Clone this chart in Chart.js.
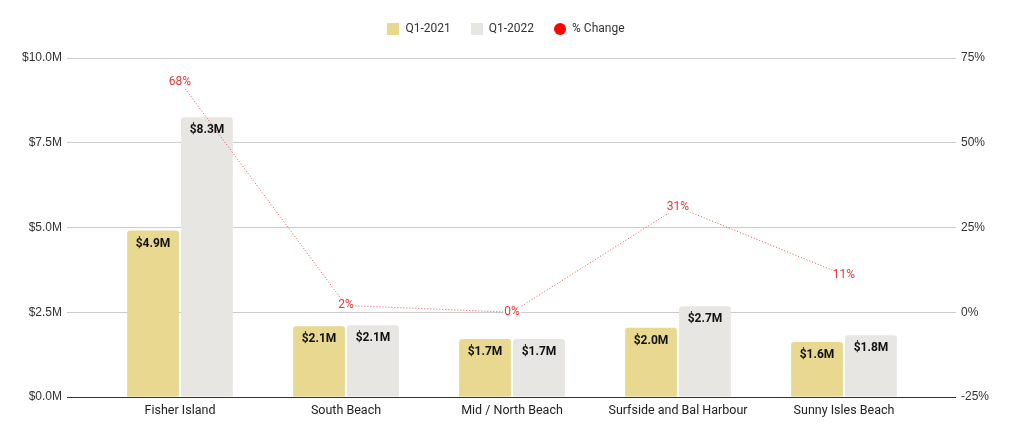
<!DOCTYPE html>
<html>
<head>
<meta charset="utf-8">
<script src="https://cdn.jsdelivr.net/npm/chart.js@4.4.1/dist/chart.umd.min.js"></script>
<style>
  html, body { margin: 0; padding: 0; background: #fff; }
  #wrap { width: 1012px; height: 439px; }
</style>
</head>
<body>
<div id="wrap"><canvas id="c" width="1012" height="439"></canvas></div>
<script>
const categories = ["Fisher Island", "South Beach", "Mid / North Beach", "Surfside and Bal Harbour", "Sunny Isles Beach"];
const q12021 = [4.91, 2.09, 1.71, 2.04, 1.62];
const q12022 = [8.25, 2.12, 1.71, 2.68, 1.82];
const pctChange = [68, 2, 0, 31, 11];
const leftTicks = [0, 2.5, 5, 7.5, 10];
const rightTicks = [-25, 0, 25, 50, 75];

const gridColor = (ctx) => (ctx.tick && ctx.tick.value === ctx.scale.min) ? '#333333' : '#cccccc';

function legendIcon(color, shape) {
  const cv = document.createElement('canvas');
  cv.width = 12; cv.height = 12;
  const g = cv.getContext('2d');
  g.fillStyle = color;
  if (shape === 'circle') { g.beginPath(); g.arc(6, 6, 6, 0, Math.PI * 2); g.fill(); }
  else { g.fillRect(0, 0, 12, 12); }
  return cv;
}

const labelPlugin = {
  id: 'valueLabels',
  afterDatasetsDraw(chart) {
    const c = chart.ctx;
    c.save();
    c.textAlign = 'center';
    c.textBaseline = 'middle';
    chart.data.datasets.forEach((ds, di) => {
      const meta = chart.getDatasetMeta(di);
      meta.data.forEach((el, i) => {
        const v = ds.data[i];
        if (ds.type === 'line') {
          const t = v + '%';
          c.font = '12px Roboto, "Liberation Sans", Arial, sans-serif';
          const w = c.measureText(t).width;
          c.fillStyle = '#ffffff';
          c.fillRect(el.x - w / 2 - 1, el.y - 6, w + 2, 12);
          c.fillStyle = '#e53935';
          c.fillText(t, el.x, el.y);
        } else {
          c.font = 'bold 12px Roboto, "Liberation Sans", Arial, sans-serif';
          c.fillStyle = '#111111';
          c.fillText('$' + v.toFixed(1) + 'M', el.x, el.y + 13);
        }
      });
    });
    c.restore();
  }
};

new Chart(document.getElementById('c'), {
  data: {
    labels: categories,
    datasets: [
      { type: 'bar', label: 'Q1-2021', data: q12021, backgroundColor: '#e8d890', yAxisID: 'y', xAxisID: 'x', order: 2,
        borderRadius: { topLeft: 3, topRight: 3 }, borderSkipped: 'bottom',
        categoryPercentage: 0.65, barPercentage: 0.96 },
      { type: 'bar', label: 'Q1-2022', data: q12022, backgroundColor: '#e8e6e3', yAxisID: 'y', xAxisID: 'x', order: 2,
        borderRadius: { topLeft: 3, topRight: 3 }, borderSkipped: 'bottom',
        categoryPercentage: 0.65, barPercentage: 0.96 },
      { type: 'line', label: '% Change', data: pctChange, yAxisID: 'y2', xAxisID: 'x', order: 0,
        borderColor: 'rgba(229,57,53,0.85)', backgroundColor: '#ff0000', borderWidth: 1,
        borderDash: [1, 2], pointRadius: 0, fill: false, tension: 0 }
    ]
  },
  options: {
    responsive: false,
    animation: false,
    events: [],
    layout: { padding: { top: 3, bottom: 15, left: 0, right: 0 } },
    plugins: {
      tooltip: { enabled: false },
      legend: {
        position: 'top',
        align: 'center',
        labels: {
          usePointStyle: true,
          boxWidth: 12, boxHeight: 12,
          padding: 20,
          font: { family: 'Roboto, "Liberation Sans", Arial, sans-serif', size: 12 },
          color: '#333333',
          sort: (a, b) => a.datasetIndex - b.datasetIndex,
          generateLabels: (chart) => chart.data.datasets.map((ds, i) => ({
            text: ds.label,
            fillStyle: ds.backgroundColor,
            strokeStyle: ds.backgroundColor,
            lineWidth: 0,
            pointStyle: legendIcon(ds.backgroundColor, ds.type === 'line' ? 'circle' : 'rect'),
            datasetIndex: i,
            hidden: false,
            fontColor: '#333333'
          }))
        }
      }
    },
    scales: {
      x: {
        position: 'bottom',
        grid: { display: false, drawTicks: false },
        border: { display: false },
        ticks: { color: '#222222', padding: 6, font: { family: 'Roboto, "Liberation Sans", Arial, sans-serif', size: 12.5 } }
      },
      xTop: {
        type: 'category',
        position: 'top',
        labels: categories,
        grid: { display: false, drawTicks: false },
        border: { display: false },
        ticks: { display: false },
        afterFit: (s) => { s.height = 13; }
      },
      y: {
        position: 'left',
        min: 0, max: 10,
        afterBuildTicks: (s) => { s.ticks = leftTicks.map(v => ({ value: v })); },
        afterFit: (s) => { s.width = 97; },
        grid: { color: gridColor, tickLength: 30, lineWidth: 1 },
        border: { display: false },
        ticks: { padding: 5, color: '#333333', font: { family: '"Liberation Sans", Arial, sans-serif', size: 12 },
          callback: (v) => '$' + Number(v).toFixed(1) + 'M' }
      },
      y2: {
        position: 'right',
        min: -25, max: 75,
        afterBuildTicks: (s) => { s.ticks = rightTicks.map(v => ({ value: v })); },
        afterFit: (s) => { s.width = 85; },
        grid: { color: gridColor, tickLength: 29, drawOnChartArea: false },
        border: { display: false },
        ticks: { padding: 5, color: '#333333', font: { family: '"Liberation Sans", Arial, sans-serif', size: 12 },
          callback: (v) => v + '%' }
      }
    }
  },
  plugins: [labelPlugin]
});
</script>
</body>
</html>
